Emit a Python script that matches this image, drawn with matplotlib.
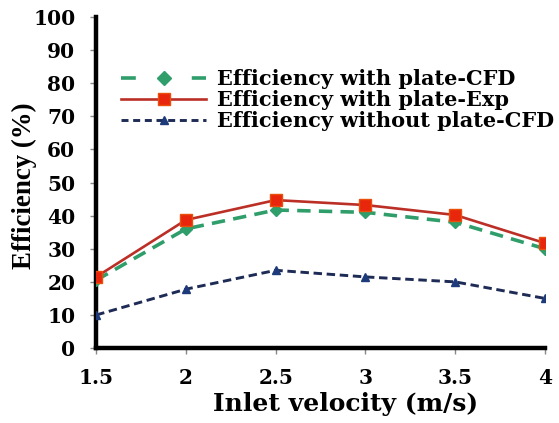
import matplotlib
matplotlib.use("Agg")
import matplotlib.pyplot as plt
from matplotlib.lines import Line2D

velocity = [1.5, 2, 2.5, 3, 3.5, 4]
eff_plate_cfd = [20.5, 36.0, 41.7, 41.0, 38.0, 30.0]
eff_plate_exp = [21.5, 38.7, 44.7, 43.2, 40.2, 31.7]
eff_noplate_cfd = [10.0, 17.8, 23.5, 21.5, 20.0, 15.0]
labels = ['Efficiency with plate-CFD', 'Efficiency with plate-Exp',
          'Efficiency without plate-CFD']

plt.rcParams['font.family'] = ['DejaVu Serif']
plt.rcParams['font.weight'] = 'bold'

green, red, navy = '#2f9e6a', '#bb2f26', '#1d2b55'

fig = plt.figure(figsize=(5.59, 4.23), dpi=100)
ax = fig.add_axes([0.172, 0.177, 0.803, 0.783])

ax.plot(velocity, eff_plate_cfd, color=green, ls=(0, (3.7, 2.3)), lw=2.6,
        marker='D', ms=6, mfc=green, mec=green, zorder=3)
ax.plot(velocity, eff_plate_exp, color=red, ls='-', lw=1.9,
        marker='s', ms=8.5, mfc='#e8260c', mec='#e8500c', zorder=4)
ax.plot(velocity, eff_noplate_cfd, color=navy, ls=(0, (2.9, 1.6)), lw=2.1,
        marker='^', ms=6, mfc='#1d3a7a', mec='#1d3a7a', zorder=3)

ax.set_xlim(1.5, 4)
ax.set_ylim(0, 100)
ax.set_xticks(velocity)
ax.set_xticklabels(['1.5', '2', '2.5', '3', '3.5', '4'])
ax.set_yticks(range(0, 101, 10))
ax.tick_params(axis='both', labelsize=14.5, direction='out', length=4.5,
               width=1, color='#888888')
ax.tick_params(axis='y', pad=10.5)
ax.tick_params(axis='x', pad=10)

for s in ['top', 'right']:
    ax.spines[s].set_visible(False)
ax.spines['left'].set_linewidth(3.2)
ax.spines['bottom'].set_linewidth(3.2)

ax.set_xlabel('Inlet velocity (m/s)', fontsize=18, fontweight='bold')
ax.xaxis.set_label_coords(0.555, -0.133)
ax.set_ylabel('Efficiency (%)', fontsize=19.4, fontweight='bold',
              family='Liberation Serif')
ax.yaxis.set_label_coords(-0.131, 0.489)

# legend handles with their own dash rhythm, as in the original
handles = [
    Line2D([], [], color=green, lw=2.6, ls=(0, (4.1, 15.5)), marker='D', ms=7,
           mfc=green, mec=green),
    Line2D([], [], color=red, lw=1.9, ls='-', marker='s', ms=8.5,
           mfc='#e8260c', mec='#e8500c'),
    Line2D([], [], color=navy, lw=2.1, ls=(0, (2.4, 1.6)), marker='^', ms=6,
           mfc='#1d3a7a', mec='#1d3a7a'),
]
ax.legend(handles, labels, loc='upper left', bbox_to_anchor=(0.2165, 0.837),
          bbox_transform=fig.transFigure, frameon=False, handlelength=4.1,
          handletextpad=0.5, labelspacing=0.06, borderpad=0, borderaxespad=0,
          prop={'weight': 'bold', 'size': 15})

fig.savefig('out.png', dpi=100)
